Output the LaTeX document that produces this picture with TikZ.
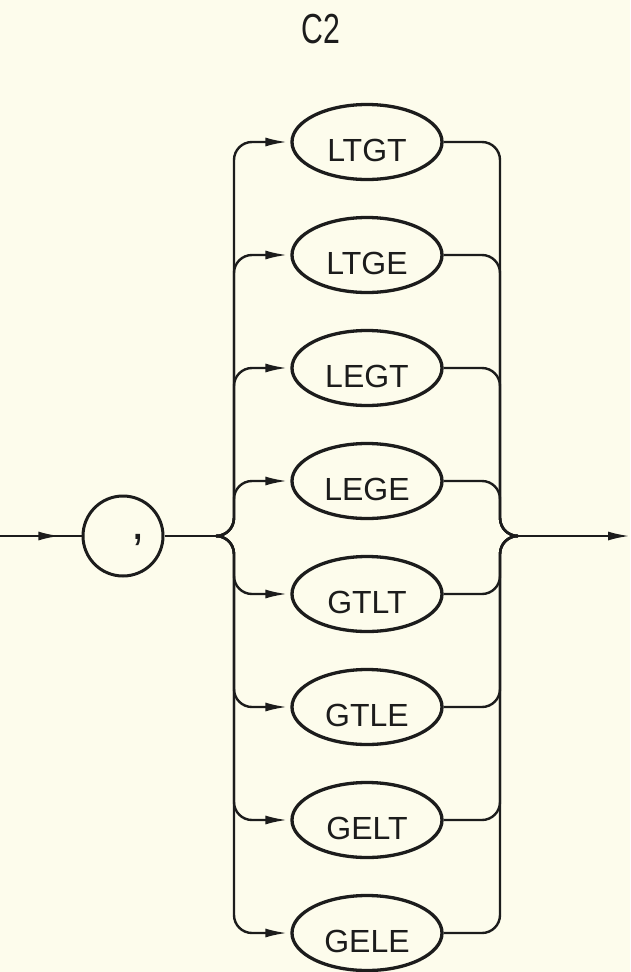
\documentclass[tikz,border=0pt]{standalone}
\usepackage{fontspec}
\usepackage{graphicx}
\setmainfont{Liberation Sans}
\usetikzlibrary{arrows.meta,shapes.geometric,decorations.markings}
\definecolor{paper}{RGB}{253,252,236}
\definecolor{ink}{RGB}{28,28,28}
\begin{document}
\begin{tikzpicture}[x=1pt,y=-1pt,
  wire/.style={draw=ink,line width=2.4pt,rounded corners=18pt},
  tip/.style={-{Latex[length=22pt,width=9pt]}},
  token/.style={ellipse,draw=ink,line width=3.3pt,minimum width=150pt,
    minimum height=75pt,inner sep=0pt},
  lbl/.style={font=\fontsize{32}{32}\selectfont,text=ink,yshift=-8pt}
]
% paper
\fill[paper] (0,0) rectangle (630,972);
\useasboundingbox (0,0) rectangle (630,972);

% heading
\node[font=\fontsize{42}{42}\selectfont,text=ink] (title) at (321,29)
  {\scalebox{0.72}[1]{C2}};

% junction points of the two buses
\coordinate (in)   at (0,536);
\coordinate (lj)   at (216,536);
\coordinate (lbus) at (234,536);
\coordinate (rbus) at (500,536);
\coordinate (rj)   at (518,536);
\coordinate (out)  at (630,536);

% the comma token
\node[circle,draw=ink,line width=3pt,minimum size=80pt,inner sep=0pt,
  label={[font=\fontsize{48}{48}\selectfont,text=ink,xshift=15pt,yshift=-4pt]center:{,}}]
  (dot) at (123,536) {};

% the eight relation tokens
\foreach \n/\t/\y in {ltgt/LTGT/142,ltge/LTGE/255,legt/LEGT/368,lege/LEGE/481,
                      gtlt/GTLT/594,gtle/GTLE/707,gelt/GELT/820,gele/GELE/933}
  \node[token,label={[lbl]center:\t}] (\n) at (367,\y) {};

% entry line
\draw[wire,postaction={decorate},decoration={markings,
  mark=at position 0.74 with {\arrow{Latex[length=22pt,width=9pt]}}}]
  (in) -- (dot.west);
\draw[wire] (dot.east) -- (lj);

% fan out to every token
\foreach \n in {ltgt,ltge,legt,lege,gtlt,gtle,gelt,gele}
  \draw[wire,tip,shorten >=3pt] (lj) -- (lbus) |- (\n.west);

% gather back into the exit line
\foreach \n in {ltgt,ltge,legt,lege,gtlt,gtle,gelt,gele}
  \draw[wire] (\n.east) -| (rbus) -- (rj);

\draw[wire,tip] (rj) -- (out);
\end{tikzpicture}
\end{document}
